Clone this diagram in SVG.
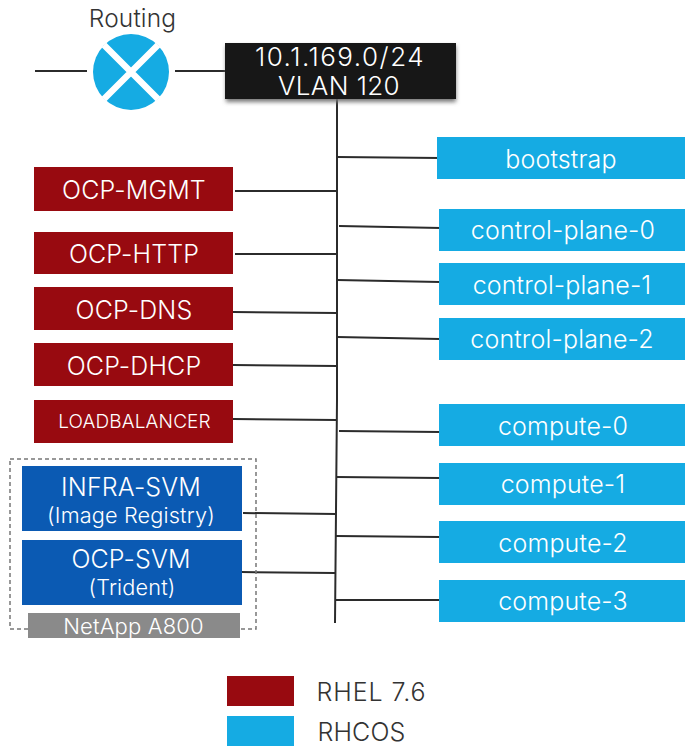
<svg xmlns="http://www.w3.org/2000/svg" width="685" height="746" viewBox="0 0 685 746">
<style>
text{font-family:"Inter","Liberation Sans",sans-serif;font-weight:300;text-anchor:middle;fill:#fff;font-size:25px;letter-spacing:.15px}
.red{fill:#980a10}.cy{fill:#15abe3}.bl{fill:#0b5ab3}
.c line,.c polyline{stroke:#2b2b2b;stroke-width:2;fill:none}
</style>
<defs><filter id="sh" x="-5%" y="-10%" width="110%" height="130%"><feGaussianBlur stdDeviation="2"/></filter></defs>
<rect width="685" height="746" fill="#fff"/>
<g id="connectors" class="c">
<line x1="35" y1="71" x2="87" y2="71"/><line x1="175" y1="71" x2="225" y2="71"/>
<polyline points="337,99 337,400 335,623"/>
<line x1="337" y1="157" x2="440" y2="158"/>
<line x1="235" y1="191" x2="337" y2="191"/>
<line x1="339" y1="226" x2="441" y2="228"/>
<line x1="235" y1="254" x2="337" y2="254"/>
<line x1="337" y1="280" x2="440" y2="282"/>
<line x1="233" y1="312" x2="337" y2="313"/>
<line x1="337" y1="337" x2="440" y2="339"/>
<line x1="233" y1="365" x2="337" y2="366"/>
<line x1="233" y1="419" x2="337" y2="420"/>
<line x1="339" y1="431" x2="440" y2="432"/>
<line x1="243" y1="513" x2="336" y2="514"/>
<line x1="336" y1="477" x2="440" y2="478"/>
<line x1="241" y1="572" x2="335" y2="573"/>
<line x1="336" y1="536" x2="440" y2="537"/>
<line x1="335" y1="600" x2="440" y2="600"/>
</g>
<g id="routing">
<circle cx="131" cy="72" r="38" class="cy"/>
<path d="M104 45L158 99M158 45L104 99" stroke="#fff" stroke-width="6.5" fill="none"/>
<text x="132.500" y="27" style="fill:#333;font-size:24.500px">Routing</text>
</g>
<g id="vlan">
<rect x="226" y="46" width="230" height="56" fill="#777" filter="url(#sh)"/>
<rect x="225" y="43" width="231" height="56" fill="#171717"/>
<text x="340" y="66" style="font-size:26px;letter-spacing:1.500px">10.1.169.0/24</text><text x="339" y="95" style="font-size:26px;letter-spacing:.4px">VLAN 120</text>
</g>
<g id="bootstrap"><rect x="437" y="137" width="248" height="42" class="cy"/><text x="561" y="168">bootstrap</text></g>
<g id="control-plane-0"><rect x="439" y="209" width="246" height="42" class="cy"/><text x="563" y="239">control-plane-0</text></g>
<g id="control-plane-1"><rect x="439" y="263" width="246" height="42" class="cy"/><text x="562" y="294">control-plane-1</text></g>
<g id="control-plane-2"><rect x="439" y="318" width="246" height="42" class="cy"/><text x="562" y="348">control-plane-2</text></g>
<g id="compute-0"><rect x="439" y="404" width="246" height="42" class="cy"/><text x="563" y="435">compute-0</text></g>
<g id="compute-1"><rect x="439" y="463" width="246" height="42" class="cy"/><text x="563" y="493">compute-1</text></g>
<g id="compute-2"><rect x="439" y="521" width="246" height="42" class="cy"/><text x="563" y="552">compute-2</text></g>
<g id="compute-3"><rect x="439" y="580" width="246" height="42" class="cy"/><text x="563" y="610">compute-3</text></g>
<g id="ocp-mgmt"><rect x="34" y="167" width="199" height="44" class="red"/><text x="134" y="199">OCP-MGMT</text></g>
<g id="ocp-http"><rect x="34" y="232" width="199" height="42" class="red"/><text x="134" y="263">OCP-HTTP</text></g>
<g id="ocp-dns"><rect x="34" y="287" width="199" height="43" class="red"/><text x="134" y="319">OCP-DNS</text></g>
<g id="ocp-dhcp"><rect x="34" y="343" width="199" height="43" class="red"/><text x="134" y="375">OCP-DHCP</text></g>
<g id="loadbalancer"><rect x="34" y="400" width="199" height="43" class="red"/><text x="134.500" y="428" style="font-size:19px">LOADBALANCER</text></g>
<g id="netapp">
<rect x="10" y="459" width="246" height="170" fill="none" stroke="#777" stroke-width="1.500" stroke-dasharray="4 3"/>
<rect x="28" y="613" width="212" height="25" fill="#8a8a8a"/>
<text x="133.500" y="634" style="font-size:22px">NetApp A800</text>
</g>
<g id="infra-svm"><rect x="22" y="466" width="220" height="65" class="bl"/><text x="131" y="496">INFRA-SVM</text><text x="131" y="523" style="font-size:21.700px">(Image Registry)</text></g>
<g id="ocp-svm"><rect x="22" y="540" width="220" height="65" class="bl"/><text x="131" y="568">OCP-SVM</text><text x="132" y="595" style="font-size:21.700px">(Trident)</text></g>
<g id="legend">
<rect x="227" y="676" width="67" height="30" class="red"/>
<rect x="227" y="716" width="67" height="30" class="cy"/>
<text x="371.500" y="701" style="fill:#333;font-size:25px;letter-spacing:.9px">RHEL 7.6</text>
<text x="361.500" y="741" style="fill:#333;font-size:25px">RHCOS</text>
</g>
</svg>
